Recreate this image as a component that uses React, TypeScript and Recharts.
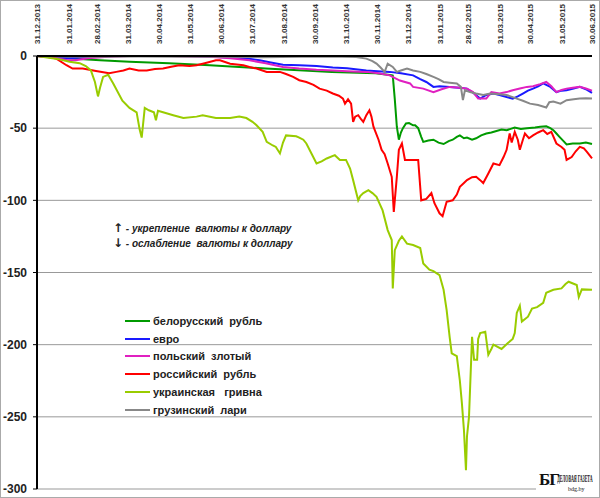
import { LineChart, Line, XAxis, YAxis, CartesianGrid } from "recharts"

// day offsets from 31.12.2013 for the month-end ticks
const monthEnds = [0, 31, 59, 90, 120, 151, 181, 212, 243, 273, 304, 334, 365, 396, 424, 455, 485, 516, 546]
const monthLabels = [
  "31.12.2013", "31.01.2014", "28.02.2014", "31.03.2014", "30.04.2014", "31.05.2014",
  "30.06.2014", "31.07.2014", "31.08.2014", "30.09.2014", "31.10.2014", "30.11.2014",
  "31.12.2014", "31.01.2015", "28.02.2015", "31.03.2015", "30.04.2015", "31.05.2015", "30.06.2015",
]
const yTicks = [0, -50, -100, -150, -200, -250, -300]

// [day, change %]
const byr = [
  [0, 0], [20, -1], [42, -2], [62, -3], [91, -4], [130, -5], [170, -6.4], [225, -8.7], [290, -11],
  [333, -12], [349, -13.4], [350, -13.6], [352, -30], [354, -49], [356, -58], [358, -53], [360, -50],
  [363, -46.8], [366, -46.5], [370, -48], [372, -48], [375, -50], [378, -56], [380, -59.5], [385, -58.5],
  [390, -58], [395, -60], [400, -61], [405, -59], [409, -58], [413, -56], [416, -55], [420, -57],
  [423, -56.5], [428, -58], [432, -57], [437, -55], [442, -53.7], [447, -53], [452, -52], [457, -51],
  [462, -51.4], [466, -50.5], [470, -49.6], [476, -50.5], [482, -50], [490, -49.5], [495, -49],
  [501, -48.7], [505, -50], [508, -51.4], [511, -53.7], [514, -56], [518, -59], [521, -61.3],
  [527, -60.6], [534, -60.6], [540, -60], [546, -61],
]

const eur = [
  [0, 0], [15, -0.5], [30, -1.5], [45, -1], [60, -0.5], [75, 0], [90, 0], [110, 0], [130, 0],
  [150, 0], [170, -0.5], [190, -1], [205, -1.5], [219, -3], [230, -4.5], [242, -6], [258, -6.4],
  [275, -7], [291, -8], [305, -8.5], [324, -10], [335, -10.5], [347, -11], [358, -12], [370, -13.4],
  [377, -16], [383, -18], [390, -21.4], [396, -21], [406, -21.4], [415, -22], [423, -22.6], [430, -26],
  [436, -29.5], [442, -27], [449, -26], [455, -27], [462, -28.4], [468, -29.5], [473, -28], [478, -26],
  [483, -24], [488, -22.6], [493, -21], [498, -19], [505, -21.4], [511, -25], [516, -24], [521, -23.7],
  [528, -22.5], [534, -21.4], [540, -23], [546, -25.6],
]

const pln = [
  [0, 0], [15, -1], [30, -3], [38, -3], [50, -1.5], [70, -0.5], [91, 0], [110, 0], [130, 0],
  [150, -0.3], [170, -0.5], [190, -1.5], [209, -3], [225, -5], [242, -7.6], [258, -8.7], [275, -9.5],
  [291, -10], [305, -10.5], [324, -11], [336, -12], [347, -13.4], [357, -17], [367, -19], [370, -21.4],
  [380, -22.6], [390, -25], [398, -23], [406, -21.4], [416, -22], [423, -22.6], [429, -25], [434, -29.5],
  [442, -29.5], [447, -25], [455, -26], [462, -25], [468, -23.7], [475, -22.5], [482, -21.4], [488, -21],
  [495, -19.5], [501, -18], [506, -21], [511, -25], [516, -23.5], [521, -22.6], [527, -22], [534, -21.4],
  [540, -22.5], [546, -24],
]

const rub = [
  [0, 0], [10, -0.5], [19, -1.8], [29, -6.4], [35, -8.7], [45, -8.7], [58, -10.4], [71, -12], [78, -11],
  [85, -10], [91, -8.7], [100, -10], [108, -10], [116, -9], [124, -8.7], [132, -7.5], [140, -6.4],
  [150, -7], [157, -6.4], [165, -5], [176, -3], [180, -3], [190, -5.3], [203, -6.4], [209, -7.6],
  [216, -8.7], [226, -11], [239, -11], [245, -12.5], [252, -14.5], [258, -16.8], [265, -18], [272, -20],
  [278, -22.6], [285, -24], [291, -26], [297, -27.5], [301, -29.5], [303, -33], [306, -30], [309, -33],
  [311, -45.7], [313, -42], [316, -41], [319, -44], [321, -45.7], [324, -41], [327, -37.6], [329, -42],
  [331, -49], [336, -58], [339, -65], [342, -68], [345, -74.5], [349, -83.7], [351, -108], [354, -83.7],
  [356, -65], [359, -60.6], [362, -72], [368, -72], [375, -72], [378, -100], [383, -99], [388, -95],
  [391, -102], [396, -109], [399, -111], [401, -106], [403, -101], [409, -100], [413, -96], [416, -90.6],
  [420, -88], [423, -86], [428, -84], [432, -83.7], [436, -86], [439, -88], [444, -81.4], [449, -74.5],
  [455, -75.6], [459, -70], [462, -65], [465, -53.7], [467, -60], [470, -52.6], [473, -58], [475, -65],
  [478, -58], [480, -53.7], [484, -57], [488, -55], [493, -53], [498, -51.4], [502, -54], [506, -52.6],
  [511, -60.6], [516, -63], [519, -65], [521, -72], [526, -70], [530, -66], [534, -63], [538, -64],
  [541, -66.4], [546, -71],
]

const uah = [
  [0, 0], [10, -1], [20, -2], [32, -4], [42, -5], [48, -7], [53, -10], [57, -18], [60, -28], [62, -22],
  [65, -14.5], [70, -13], [75, -19], [84, -31], [91, -36], [98, -39], [101, -51], [103, -56.5], [106, -36],
  [110, -37.6], [115, -39], [117, -44.5], [119, -38], [124, -39], [134, -41], [144, -43], [157, -42],
  [163, -41], [176, -43], [190, -43], [199, -42], [206, -43], [212, -45.6], [216, -48], [222, -52.6],
  [226, -59.5], [232, -62], [235, -63], [239, -67.5], [242, -60], [245, -55], [255, -55.6], [258, -56.5],
  [262, -58], [265, -60.6], [270, -67.5], [275, -74.5], [280, -73], [285, -71], [293, -68.7], [298, -72],
  [304, -72], [308, -78], [311, -86], [316, -100], [318, -97], [321, -95], [326, -93], [330, -95],
  [334, -97.6], [340, -107], [345, -120.6], [349, -127.5], [350, -161], [352, -134.5], [356, -128],
  [359, -125], [364, -130], [370, -131], [377, -133], [380, -143.7], [386, -148], [390, -149],
  [396, -151.8], [400, -162], [403, -176], [406, -195], [408, -206], [413, -208], [416, -225],
  [418, -240.5], [420, -259], [422, -287], [423, -263.6], [425, -250], [428, -194.5], [430, -210.5],
  [433, -210.5], [434, -196], [436, -192], [441, -191], [444, -207], [447, -203], [449, -200],
  [457, -203], [463, -199], [468, -196], [470, -192], [472, -178], [475, -173], [477, -184],
  [483, -180.6], [487, -175], [492, -174], [498, -171], [501, -164], [508, -162], [516, -161],
  [520, -158], [523, -156.4], [531, -158.7], [533, -167], [536, -161.7], [546, -162],
]

const gel = [
  [0, 0], [20, -0.3], [60, -0.5], [100, -0.3], [140, -0.5], [180, -0.5], [220, -0.8], [260, -0.5],
  [300, -0.5], [314, -0.7], [324, -1.8], [330, -3.5], [334, -5.3], [338, -8], [342, -11], [345, -5.3],
  [350, -7.6], [354, -11], [358, -10], [364, -8.7], [370, -10], [377, -11], [383, -12.5], [390, -14.5],
  [395, -16], [400, -18], [406, -18.5], [413, -19], [417, -21.4], [419, -30.6], [421, -23.7], [426, -25],
  [432, -26], [439, -27], [446, -26], [455, -26.5], [462, -27], [468, -28.5], [472, -29.5], [478, -31],
  [485, -33], [493, -34], [501, -35.7], [504, -32], [508, -31.5], [515, -33], [521, -30.6], [528, -30],
  [534, -29.5], [540, -29.2], [546, -29.5],
]

const seriesNames = [
  "белорусский  рубль", "евро", "польский  злотый", "российский  рубль", "украинская   гривна", "грузинский  лари",
]
const seriesColors = ["#009a00", "#1a1aff", "#e020c0", "#ff0000", "#99cc00", "#888888"]
const seriesData = [byr, eur, pln, rub, uah, gel]

const toPoints = (arr: number[][]) => arr.map(([d, v]) => ({ d, v }))

function DateTick({ x, payload }: any) {
  const label = monthLabels[monthEnds.indexOf(payload.value)]
  return (
    <text
      transform={`translate(${x + 3},44) rotate(-90)`}
      textAnchor="start"
      fontSize={8}
      fontWeight="bold"
      fontFamily="Liberation Sans, Arial, sans-serif"
      fill="#333"
    >
      {label}
    </text>
  )
}

export default function App() {
  return (
    <div style={{ position: "absolute", left: 0, top: 0, width: 600, height: 498, background: "#fff", fontFamily: "Liberation Sans, Arial, sans-serif" }}>
      <LineChart width={600} height={498} margin={{ top: 0, right: 8, bottom: 9, left: 0 }}>
        <CartesianGrid vertical={false} stroke="#999" horizontalValues={yTicks} />
        <XAxis
          type="number"
          dataKey="d"
          orientation="top"
          domain={[0, 546]}
          ticks={monthEnds}
          height={56}
          tick={<DateTick />}
          tickLine={false}
          axisLine={{ stroke: "#000", strokeWidth: 2 }}
          interval={0}
        />
        <YAxis
          type="number"
          dataKey="v"
          domain={[-300, 0]}
          ticks={yTicks}
          width={37}
          interval={0}
          tickSize={4}
          tickMargin={6}
          tickLine={{ stroke: "#000" }}
          axisLine={{ stroke: "#000", strokeWidth: 2 }}
          tick={{ fill: "#222", fontSize: 12, fontWeight: "bold" }}
        />
        {seriesData.map((s, i) => (
          <Line
            key={seriesNames[i]}
            data={toPoints(s)}
            dataKey="v"
            type="linear"
            stroke={seriesColors[i]}
            strokeWidth={2}
            dot={false}
            isAnimationActive={false}
          />
        ))}
      </LineChart>

      {/* annotation */}
      <div style={{ position: "absolute", left: 113, top: 221, fontSize: 10, fontStyle: "italic", fontWeight: "bold", color: "#222", lineHeight: "15px", whiteSpace: "pre" }}>
        <div><span style={{ fontFamily: "DejaVu Sans", fontStyle: "normal", fontSize: 12 }}>↑</span> - укрепление  валюты к доллару</div>
        <div><span style={{ fontFamily: "DejaVu Sans", fontStyle: "normal", fontSize: 12 }}>↓</span> - ослабление  валюты к доллару</div>
      </div>

      {/* legend */}
      <div style={{ position: "absolute", left: 125, top: 312 }}>
        {seriesNames.map((name, i) => (
          <div key={name} style={{ display: "flex", alignItems: "center", height: 17.8, whiteSpace: "pre" }}>
            <span style={{ display: "inline-block", width: 25, height: 2, background: seriesColors[i] }} />
            <span style={{ marginLeft: 3, fontSize: 11, fontWeight: "bold", color: "#222" }}>{name}</span>
          </div>
        ))}
      </div>

      {/* watermark */}
      <div style={{ position: "absolute", left: 536, top: 468, width: 62, height: 26, background: "#fff", fontFamily: "Liberation Serif, serif", color: "#111" }}>
        <span style={{ position: "absolute", left: 3, top: 2, fontSize: 17, fontWeight: "bold", letterSpacing: -1 }}>БГ</span>
        <span style={{ position: "absolute", left: 21, top: 5, fontSize: 8, fontWeight: "bold", transform: "scale(0.5,1.3)", transformOrigin: "left top", whiteSpace: "nowrap" }}>ДЕЛОВАЯ ГАЗЕТА</span>
        <span style={{ position: "absolute", left: 32, top: 18, fontSize: 6 }}>bdg.by</span>
      </div>

      <div style={{ position: "absolute", inset: 0, border: "1px solid #aaa", pointerEvents: "none" }} />
    </div>
  )
}
